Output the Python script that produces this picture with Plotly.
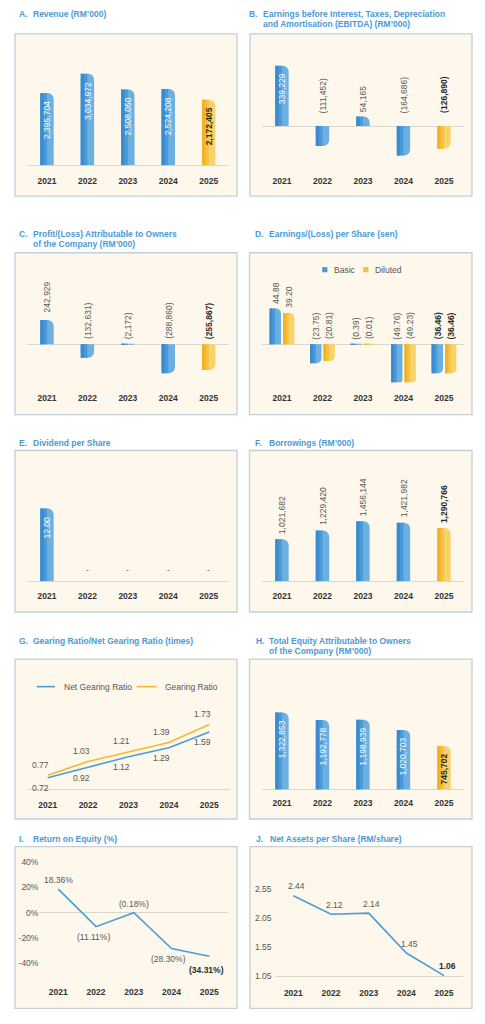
import plotly.graph_objects as go

W, H = 485, 1024
FONT = "Liberation Sans, Arial, sans-serif"
TITLE_BLUE = "#4a9ad6"
DARK = "#2b2b2b"
GREY = "#575757"
BASE = "#d9d8cf"
PANEL_FILL = "#fdf7ec"
PANEL_EDGE = "#c3cfd9"
BLUE = ["#3a8bcf", "#4b9ad8", "#6cafe1"]     # left -> right of a bar
YELLOW = ["#f1b225", "#f4c140", "#f8d26a"]
LINE_BLUE = "#4a9ed8"
LINE_YELLOW = "#f5b730"

# ---- data ----
years = ["2021", "2022", "2023", "2024", "2025"]

revenue = [2395704, 3034972, 2508050, 2524208, 2172405]
ebitda = [339229, -111452, 54165, -164686, -126890]
profit = [242929, -132631, -2172, -288860, -255867]
eps_basic = [44.88, -23.75, -0.39, -49.76, -36.46]
eps_diluted = [39.20, -20.81, -0.01, -49.23, -36.46]
dividend = [12.00, 0, 0, 0, 0]
borrowings = [1021682, 1229420, 1456144, 1421982, 1290766]
net_gearing = [0.72, 0.92, 1.12, 1.29, 1.59]
gearing = [0.77, 1.03, 1.21, 1.39, 1.73]
total_equity = [1322853, 1192778, 1198939, 1020703, 745702]
roe = [18.36, -11.11, -0.18, -28.30, -34.31]
nav_per_share = [2.44, 2.12, 2.14, 1.45, 1.06]

roe_ticks = [40, 20, 0, -20, -40]
roe_ticktext = ["40%", "20%", "0%", "-20%", "-40%"]
nav_ticks = [2.55, 2.05, 1.55, 1.05]

letters = ["A.", "B.", "C.", "D.", "E.", "F.", "G.", "H.", "I.", "J."]
titles = [
    ["Revenue (RM’000)"],
    ["Earnings before Interest, Taxes, Depreciation", "and Amortisation (EBITDA) (RM’000)"],
    ["Profit/(Loss) Attributable to Owners", "of the Company (RM’000)"],
    ["Earnings/(Loss) per Share (sen)"],
    ["Dividend per Share"],
    ["Borrowings (RM’000)"],
    ["Gearing Ratio/Net Gearing Ratio (times)"],
    ["Total Equity Attributable to Owners", "of the Company (RM’000)"],
    ["Return on Equity (%)"],
    ["Net Assets per Share (RM/share)"],
]

# panel layout in page pixels:
# box, letter x, title x, title y, x domain, y domain (top, bottom), base value, base px, px per unit, year gap
panels = [
    ((15, 34, 237, 197), 16.7, 31, 14, (26.8, 228.9), (40, 166), 0, 166, 30.3e-6, 15.7),
    ((250, 34, 472, 197), 246.7, 260.7, 14, (261.75, 464.25), (40, 166), 0, 126.7, 1.789e-4, 15.7),
    ((15, 254, 237, 416.7), 17.3, 30.7, 235, (26.8, 228.9), (260, 384), 0, 346, 1.01e-4, 16),
    ((249.5, 254, 472, 416.7), 252.7, 266.7, 235, (261.75, 464.25), (260, 384), 0, 346, 0.80, 16),
    ((15, 452.7, 237, 615), 17.3, 31, 445, (26.8, 228.9), (460, 584), 0, 584, 6.08, 14.5),
    ((249.5, 452.7, 472, 615), 252.7, 266.7, 445, (261.75, 464.25), (460, 584), 0, 584, 41.3e-6, 14.5),
    ((15, 662.3, 237, 823), 17.3, 31, 644, (27.5, 229.5), (700, 793.3), 0.5, 793.3, 53, 13.7),
    ((249.5, 662.3, 472, 823), 254, 267.3, 644, (261.75, 464.25), (670, 793.3), 0, 793.3, 58.5e-6, 13.7),
    ((15, 850.7, 237, 1013.3), 17.3, 31, 843.3, (39.4, 228.2), (858, 985), 0, 917, 1.28, 12.3),
    ((250, 850.7, 472, 1013.3), 254, 268, 843.3, (274.5, 462.9), (858, 981), 1.05, 981, 58.2, 16.3),
]

YEAR_K = 7  # plotly's own distance from axis to label centre (approx)

fig = go.Figure()
axes = {}
notes = []
shapes = []


def px(x):
    return x / W


def py(y):
    return 1 - y / H


def refs(n):
    return ("x", "y") if n == 1 else (f"x{n}", f"y{n}")


def fnt(color=GREY, size=8.5):
    return dict(family=FONT, size=size, color=color)


def fmt_int(v):
    return f"{v:,}" if v >= 0 else f"({-v:,})"


def fmt_dec(v):
    return f"{v:.2f}" if v >= 0 else f"({-v:.2f})"


def fmt_pct(v):
    return f"{v:.2f}%" if v >= 0 else f"({-v:.2f}%)"


def bold(s, on):
    return f"<b>{s}</b>" if on else s


def setup_panel(n):
    box, lx, tx, ty, xdom, ydom, base, y0, scale, ygap = panels[n - 1]
    l, t, r, b = box
    shapes.append(dict(type="rect", xref="paper", yref="paper", x0=px(l), x1=px(r),
                       y0=py(b), y1=py(t), fillcolor=PANEL_FILL,
                       line=dict(color=PANEL_EDGE, width=1.3), layer="below"))
    notes.append(dict(xref="paper", yref="paper", x=px(lx), y=py(ty), text=f"<b>{letters[n - 1]}</b>",
                      xanchor="left", yanchor="middle", showarrow=False, font=fnt(TITLE_BLUE)))
    for k, line in enumerate(titles[n - 1]):
        notes.append(dict(xref="paper", yref="paper", x=px(tx), y=py(ty + k * 10.4), text=f"<b>{line}</b>",
                          xanchor="left", yanchor="middle", showarrow=False, font=fnt(TITLE_BLUE)))
    top, bot = ydom
    rng = [base - (bot - y0) / scale, base + (y0 - top) / scale]
    xk = "xaxis" if n == 1 else f"xaxis{n}"
    yk = "yaxis" if n == 1 else f"yaxis{n}"
    axes[xk] = dict(domain=[px(xdom[0]), px(xdom[1])], anchor=refs(n)[1], range=[-0.5, 4.5],
                    tickvals=list(range(len(years))), ticktext=[f"<b>{y}</b>" for y in years],
                    ticks="", showgrid=False, zeroline=False, showline=False,
                    tickfont=fnt("#333333"), ticklabelstandoff=int(round(ygap - YEAR_K)),
                    fixedrange=True)
    axes[yk] = dict(domain=[py(bot), py(top)], anchor=refs(n)[0], range=rng, showgrid=False,
                    zeroline=True, zerolinecolor=BASE, zerolinewidth=1, showticklabels=False,
                    ticks="", fixedrange=True)
    return scale


def bars(n, values, colors, center=0.0, width=0.33):
    xr, yr = refs(n)
    xs = list(range(len(values)))
    # full rounded bar, then square strips over the left side for the shading
    for frac, shade in ((1.0, 2), (0.5, 1), (0.25, 0)):
        fig.add_trace(go.Bar(
            x=xs, y=values, width=width * frac, offset=center - width / 2,
            marker=dict(color=[c[shade] for c in colors], line_width=0,
                        cornerradius="50%" if frac == 1.0 else 0),
            xaxis=xr, yaxis=yr, hoverinfo="skip", showlegend=False))


def bar_labels(n, values, texts, mode, scale, center=0.0, gap_pos=4.0, gap_neg=4.0):
    xr, yr = refs(n)
    last = len(values) - 1
    for i, (v, t) in enumerate(zip(values, texts)):
        strong = i == last
        if v == 0:
            notes.append(dict(xref=xr, yref=yr, x=i + center, y=0, text=t, yanchor="middle",
                              yshift=11, showarrow=False, font=fnt(GREY)))
            continue
        inside = mode == "inside" or (mode == "auto" and v > 0 and v * scale >= 50)
        if inside:
            notes.append(dict(xref=xr, yref=yr, x=i + center, y=v, text=bold(t, strong),
                              textangle=-90, yanchor="top", yshift=-6, showarrow=False,
                              font=fnt(DARK if strong else "white")))
        else:
            notes.append(dict(xref=xr, yref=yr, x=i + center, y=max(v, 0), text=bold(t, strong),
                              textangle=-90, yanchor="bottom",
                              yshift=(gap_pos if v > 0 else gap_neg) - 1, showarrow=False,
                              font=fnt(DARK if strong else GREY)))


highlight = [YELLOW if y == years[-1] else BLUE for y in years]

# A. Revenue
s = setup_panel(1)
bars(1, revenue, highlight)
bar_labels(1, revenue, [fmt_int(v) for v in revenue], "inside", s)

# B. EBITDA
s = setup_panel(2)
bars(2, ebitda, highlight)
bar_labels(2, ebitda, [fmt_int(v) for v in ebitda], "auto", s, gap_pos=3.3, gap_neg=11.7)

# C. Profit/(Loss)
s = setup_panel(3)
bars(3, profit, highlight)
bar_labels(3, profit, [fmt_int(v) for v in profit], "auto", s, gap_pos=6, gap_neg=4.3)

# D. EPS basic / diluted
s = setup_panel(4)
bars(4, eps_basic, [BLUE] * len(years), center=-0.165, width=0.28)
bars(4, eps_diluted, [YELLOW] * len(years), center=0.165, width=0.28)
bar_labels(4, eps_basic, [fmt_dec(v) for v in eps_basic], "outside", s, center=-0.165)
bar_labels(4, eps_diluted, [fmt_dec(v) for v in eps_diluted], "outside", s, center=0.165)
for col, sq_x, name, name_x in ((BLUE[1], 324.8, "Basic", 331.7), (YELLOW[1], 365.8, "Diluted", 372.7)):
    shapes.append(dict(type="rect", xref="paper", yref="paper", x0=px(sq_x - 2.6), x1=px(sq_x + 2.6),
                       y0=py(273.6), y1=py(268.4), fillcolor=col, line_width=0))
    notes.append(dict(xref="paper", yref="paper", x=px(name_x), y=py(271), text=name,
                      xanchor="left", yanchor="middle", showarrow=False, font=fnt(GREY)))

# E. Dividend
s = setup_panel(5)
bars(5, dividend, highlight)
bar_labels(5, dividend, [fmt_dec(v) if v else "-" for v in dividend], "inside", s)

# F. Borrowings
s = setup_panel(6)
bars(6, borrowings, highlight)
bar_labels(6, borrowings, [fmt_int(v) for v in borrowings], "outside", s)

# G. Gearing ratios
setup_panel(7)
axes["xaxis7"].update(showline=True, linecolor=BASE, linewidth=1)
axes["yaxis7"].update(zeroline=False)
for vals, col, sign in ((net_gearing, LINE_BLUE, -1), (gearing, LINE_YELLOW, 1)):
    fig.add_trace(go.Scatter(x=list(range(len(years))), y=vals, mode="lines",
                             line=dict(color=col, width=1.6), xaxis="x7", yaxis="y7",
                             hoverinfo="skip", showlegend=False))
    for i, v in enumerate(vals):
        notes.append(dict(xref="x7", yref="y7", x=i, y=v, text=f"{v:.2f}", xshift=-7,
                          yshift=sign * 10.5, yanchor="middle", showarrow=False, font=fnt(GREY)))
for col, x0, x1, name, name_x in ((LINE_BLUE, 36.7, 55, "Net Gearing Ratio", 61.7),
                                  (LINE_YELLOW, 136.7, 156.7, "Gearing Ratio", 163.3)):
    shapes.append(dict(type="line", xref="paper", yref="paper", x0=px(x0), x1=px(x1),
                       y0=py(690), y1=py(690), line=dict(color=col, width=1.6)))
    notes.append(dict(xref="paper", yref="paper", x=px(name_x), y=py(690), text=name,
                      xanchor="left", yanchor="middle", showarrow=False, font=fnt(GREY)))

# H. Total equity
s = setup_panel(8)
bars(8, total_equity, highlight)
bar_labels(8, total_equity, [fmt_int(v) for v in total_equity], "inside", s)

# I. Return on equity
setup_panel(9)
axes["yaxis9"].update(showticklabels=True, tickvals=roe_ticks, ticktext=roe_ticktext,
                      tickfont=fnt(GREY), ticklabelstandoff=0)
fig.add_trace(go.Scatter(x=list(range(len(years))), y=roe, mode="lines",
                         line=dict(color=LINE_BLUE, width=1.6), xaxis="x9", yaxis="y9",
                         hoverinfo="skip", showlegend=False))
for i, v in enumerate(roe):
    nb = [roe[j] for j in (i - 1, i + 1) if 0 <= j < len(roe)]
    above = all(v >= u for u in nb)
    strong = i == len(roe) - 1
    notes.append(dict(xref="x9", yref="y9", x=i, y=v, text=bold(fmt_pct(v), strong),
                      xshift=0 if above else -3, yshift=9 if above else (-14 if strong else -10),
                      yanchor="middle", showarrow=False, font=fnt(DARK if strong else GREY)))

# J. Net assets per share
setup_panel(10)
axes["xaxis10"].update(showline=True, linecolor=BASE, linewidth=1)
axes["yaxis10"].update(zeroline=False, showticklabels=True, tickvals=nav_ticks,
                       ticktext=[f"{v:.2f}" for v in nav_ticks], tickfont=fnt(GREY),
                       ticklabelstandoff=2)
fig.add_trace(go.Scatter(x=list(range(len(years))), y=nav_per_share, mode="lines",
                         line=dict(color=LINE_BLUE, width=1.6), xaxis="x10", yaxis="y10",
                         hoverinfo="skip", showlegend=False))
for i, v in enumerate(nav_per_share):
    strong = i == len(nav_per_share) - 1
    notes.append(dict(xref="x10", yref="y10", x=i, y=v, text=bold(f"{v:.2f}", strong),
                      xshift=3, yshift=9.5, yanchor="middle", showarrow=False,
                      font=fnt(DARK if strong else GREY)))

fig.update_layout(
    width=W, height=H, margin=dict(l=0, r=0, t=0, b=0),
    paper_bgcolor="white", plot_bgcolor="rgba(0,0,0,0)",
    barmode="overlay", showlegend=False, font=dict(family=FONT),
    shapes=shapes, annotations=notes, **axes,
)

fig.write_html("out.html", config={"displayModeBar": False},
               post_script="document.body.style.margin='0';document.body.style.overflow='hidden';")
